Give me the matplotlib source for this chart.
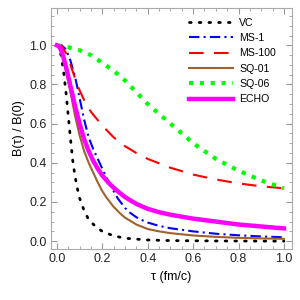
import numpy as np
import matplotlib.pyplot as plt
from matplotlib.ticker import MultipleLocator

plt.rcParams['font.family'] = ['Liberation Sans', 'DejaVu Sans']

# values
t_vc = [0, 0.01, 0.02, 0.03, 0.04, 0.05, 0.06, 0.07, 0.08, 0.09, 0.1, 0.12, 0.14, 0.17,
        0.2, 0.25, 0.3, 0.4, 0.5, 0.7, 1.0]
b_vc = [1.0, 0.99, 0.94, 0.86, 0.76, 0.64, 0.52, 0.41, 0.33, 0.27, 0.22, 0.155, 0.11, 0.075,
        0.05, 0.027, 0.015, 0.006, 0.003, 0.001, 0.0]

t_ms1 = [0, 0.02, 0.04, 0.05, 0.06, 0.08, 0.1, 0.12, 0.14, 0.16, 0.18, 0.2, 0.22, 0.25,
         0.27, 0.3, 0.32, 0.35, 0.37, 0.4, 0.45, 0.5, 0.6, 0.7, 0.8, 0.9, 1.0]
b_ms1 = [1.0, 1.0, 0.98, 0.95, 0.92, 0.84, 0.73, 0.62, 0.53, 0.47, 0.42, 0.37, 0.32, 0.255,
         0.215, 0.17, 0.147, 0.122, 0.11, 0.095, 0.078, 0.066, 0.05, 0.038, 0.03, 0.024, 0.02]

t_ms100 = [0, 0.02, 0.04, 0.06, 0.08, 0.1, 0.12, 0.15, 0.2, 0.25, 0.3, 0.35, 0.4, 0.5, 0.6,
           0.7, 0.8, 0.9, 1.0]
b_ms100 = [1.0, 1.0, 0.96, 0.9, 0.83, 0.77, 0.72, 0.66, 0.59, 0.53, 0.485, 0.45, 0.42, 0.375,
           0.34, 0.315, 0.295, 0.28, 0.27]

t_sq01 = [0, 0.02, 0.04, 0.06, 0.08, 0.1, 0.12, 0.14, 0.16, 0.18, 0.2, 0.22, 0.25, 0.28,
          0.3, 0.35, 0.4, 0.45, 0.5, 0.6, 0.7, 0.8, 0.9, 1.0]
b_sq01 = [1.0, 0.97, 0.87, 0.76, 0.64, 0.54, 0.46, 0.40, 0.35, 0.30, 0.255, 0.22, 0.175,
          0.14, 0.12, 0.085, 0.062, 0.05, 0.041, 0.029, 0.022, 0.017, 0.014, 0.012]

t_sq06 = [0, 0.05, 0.1, 0.15, 0.2, 0.25, 0.3, 0.35, 0.4, 0.45, 0.5, 0.55, 0.6, 0.65, 0.7,
          0.75, 0.8, 0.85, 0.9, 0.95, 1.0]
b_sq06 = [1.0, 0.99, 0.975, 0.95, 0.91, 0.87, 0.82, 0.76, 0.70, 0.65, 0.60, 0.55, 0.50, 0.46,
          0.42, 0.39, 0.36, 0.335, 0.31, 0.29, 0.27]

t_echo = [0, 0.01, 0.02, 0.03, 0.04, 0.06, 0.08, 0.1, 0.12, 0.14, 0.16, 0.18, 0.2, 0.23,
          0.26, 0.3, 0.35, 0.4, 0.45, 0.5, 0.6, 0.7, 0.8, 0.9, 1.0]
b_echo = [1.0, 0.995, 0.97, 0.935, 0.89, 0.79, 0.69, 0.6, 0.52, 0.46, 0.41, 0.37, 0.335,
          0.295, 0.262, 0.225, 0.19, 0.165, 0.148, 0.135, 0.115, 0.1, 0.085, 0.075, 0.065]

fig = plt.figure(figsize=(3, 3), dpi=100)
ax = fig.add_axes([0.17, 0.17, 0.803, 0.803])

ax.plot(t_vc, b_vc, color="black", lw=2, linestyle=(0, (0.6, 2.9)), dash_capstyle="round",
        label="VC")
ax.plot(t_ms1, b_ms1, color="blue", lw=1.5, linestyle=(0, (5, 2, 1, 2)), label="MS-1")
ax.plot(t_ms100, b_ms100, color="red", lw=1.5, linestyle=(0, (7, 5)), label="MS-100")
ax.plot(t_sq01, b_sq01, color="#A0622D", lw=1.5, label="SQ-01")
ax.plot(t_sq06, b_sq06, color="#00FF00", lw=3, linestyle=(0, (1, 1.6)), label="SQ-06")
ax.plot(t_echo, b_echo, color="#FF00FF", lw=3.2, label="ECHO")

ax.set_xlim(-0.026, 1.035)
ax.set_ylim(-0.04, 1.19)
ax.xaxis.set_minor_locator(MultipleLocator(0.05))
ax.yaxis.set_minor_locator(MultipleLocator(0.05))
ax.set_xticks([0, 0.2, 0.4, 0.6, 0.8, 1.0])
ax.set_xticklabels(["0.0", "0.2", "0.4", "0.6", "0.8", "1.0"])
ax.set_yticks([0, 0.2, 0.4, 0.6, 0.8, 1.0])
ax.set_yticklabels(["0.0", "0.2", "0.4", "0.6", "0.8", "1.0"])
ax.tick_params(which="both", direction="in", top=True, right=True, color="#999999",
               labelsize=9, labelcolor="#222222", pad=3)
ax.tick_params(which="major", length=4)
ax.tick_params(which="minor", length=2)
for s in ax.spines.values():
    s.set_color("#aaaaaa")

ax.set_xlabel("τ (fm/c)", fontsize=9, labelpad=4)
ax.set_ylabel("B(τ) / B(0)", fontsize=9, labelpad=3)

ax.legend(loc="upper right", bbox_to_anchor=(0.965, 0.99), frameon=False, fontsize=7.6,
          handlelength=4.2, labelspacing=0.5, handletextpad=0.6, borderaxespad=0.3)

fig.savefig("out.png", dpi=100)
